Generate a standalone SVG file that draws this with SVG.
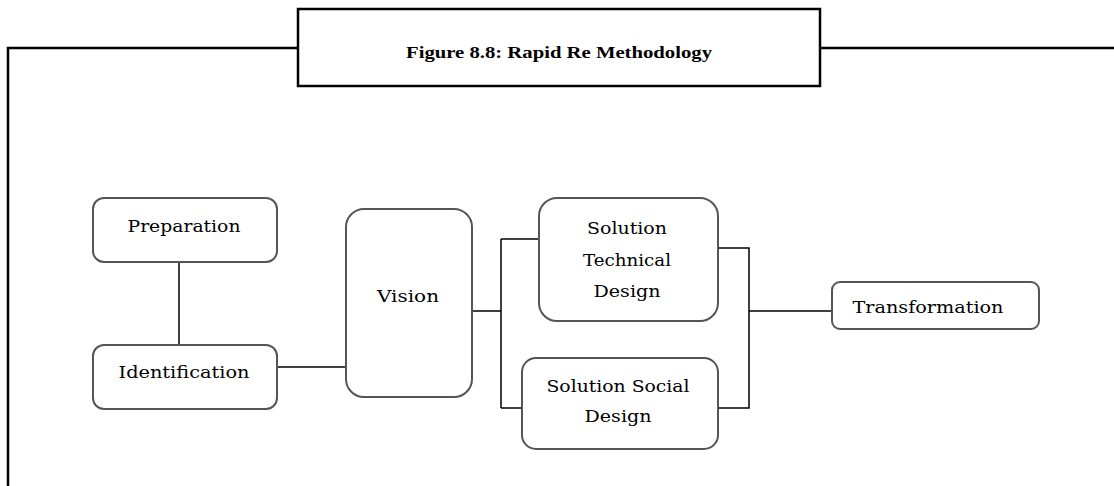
<svg xmlns="http://www.w3.org/2000/svg" width="1114" height="486" viewBox="0 0 1114 486">
<style>
.frame{fill:none;stroke:#000;stroke-width:2.5}
.node{fill:#fff;stroke:#555;stroke-width:2}
.lbl{font-family:"DejaVu Serif","Liberation Serif",serif;font-size:17.5px;fill:#000;text-anchor:middle}
.title{font-family:"Liberation Serif",serif;font-size:17px;font-weight:bold;fill:#000;text-anchor:middle}
.conn{fill:none;stroke:#000;stroke-width:1.5}
</style>
<rect width="1114" height="486" fill="#fff"/>
<g id="frame">
<path class="frame" d="M8,486 V48 H298 M820,48 H1114"/>
<rect class="frame" x="298" y="9" width="522" height="77"/>
<text class="title" x="559" y="58" textLength="306" lengthAdjust="spacingAndGlyphs">Figure 8.8: Rapid Re Methodology</text>
</g>
<g id="connectors">
<path class="conn" d="M179,262 V345"/>
<path class="conn" d="M277,367 H346"/>
<path class="conn" d="M472,311 H501 M501,239 V408 M501,239 H539 M501,408 H522"/>
<path class="conn" d="M718,248 H749 V408 H718 M749,311 H833"/>
</g>
<g id="preparation">
<rect class="node" x="93" y="198" width="184" height="64" rx="11"/>
<text class="lbl" x="184" y="232" textLength="113" lengthAdjust="spacingAndGlyphs">Preparation</text>
</g>
<g id="identification">
<rect class="node" x="93" y="345" width="184" height="64" rx="11"/>
<text class="lbl" x="184" y="378" textLength="131" lengthAdjust="spacingAndGlyphs">Identification</text>
</g>
<g id="vision">
<rect class="node" x="346" y="209" width="126" height="188" rx="18"/>
<text class="lbl" x="408" y="302" textLength="62" lengthAdjust="spacingAndGlyphs">Vision</text>
</g>
<g id="tech">
<rect class="node" x="539" y="198" width="179" height="123" rx="18"/>
<text class="lbl" x="627" y="234" textLength="80" lengthAdjust="spacingAndGlyphs">Solution</text>
<text class="lbl" x="627" y="266" textLength="88" lengthAdjust="spacingAndGlyphs">Technical</text>
<text class="lbl" x="627" y="297" textLength="67" lengthAdjust="spacingAndGlyphs">Design</text>
</g>
<g id="social">
<rect class="node" x="522" y="358" width="196" height="91" rx="14"/>
<text class="lbl" x="618" y="392" textLength="143" lengthAdjust="spacingAndGlyphs">Solution Social</text>
<text class="lbl" x="618" y="422" textLength="67" lengthAdjust="spacingAndGlyphs">Design</text>
</g>
<g id="transformation">
<rect class="node" x="832" y="282" width="207" height="47" rx="8"/>
<text class="lbl" x="928" y="313" textLength="151" lengthAdjust="spacingAndGlyphs">Transformation</text>
</g>
</svg>
